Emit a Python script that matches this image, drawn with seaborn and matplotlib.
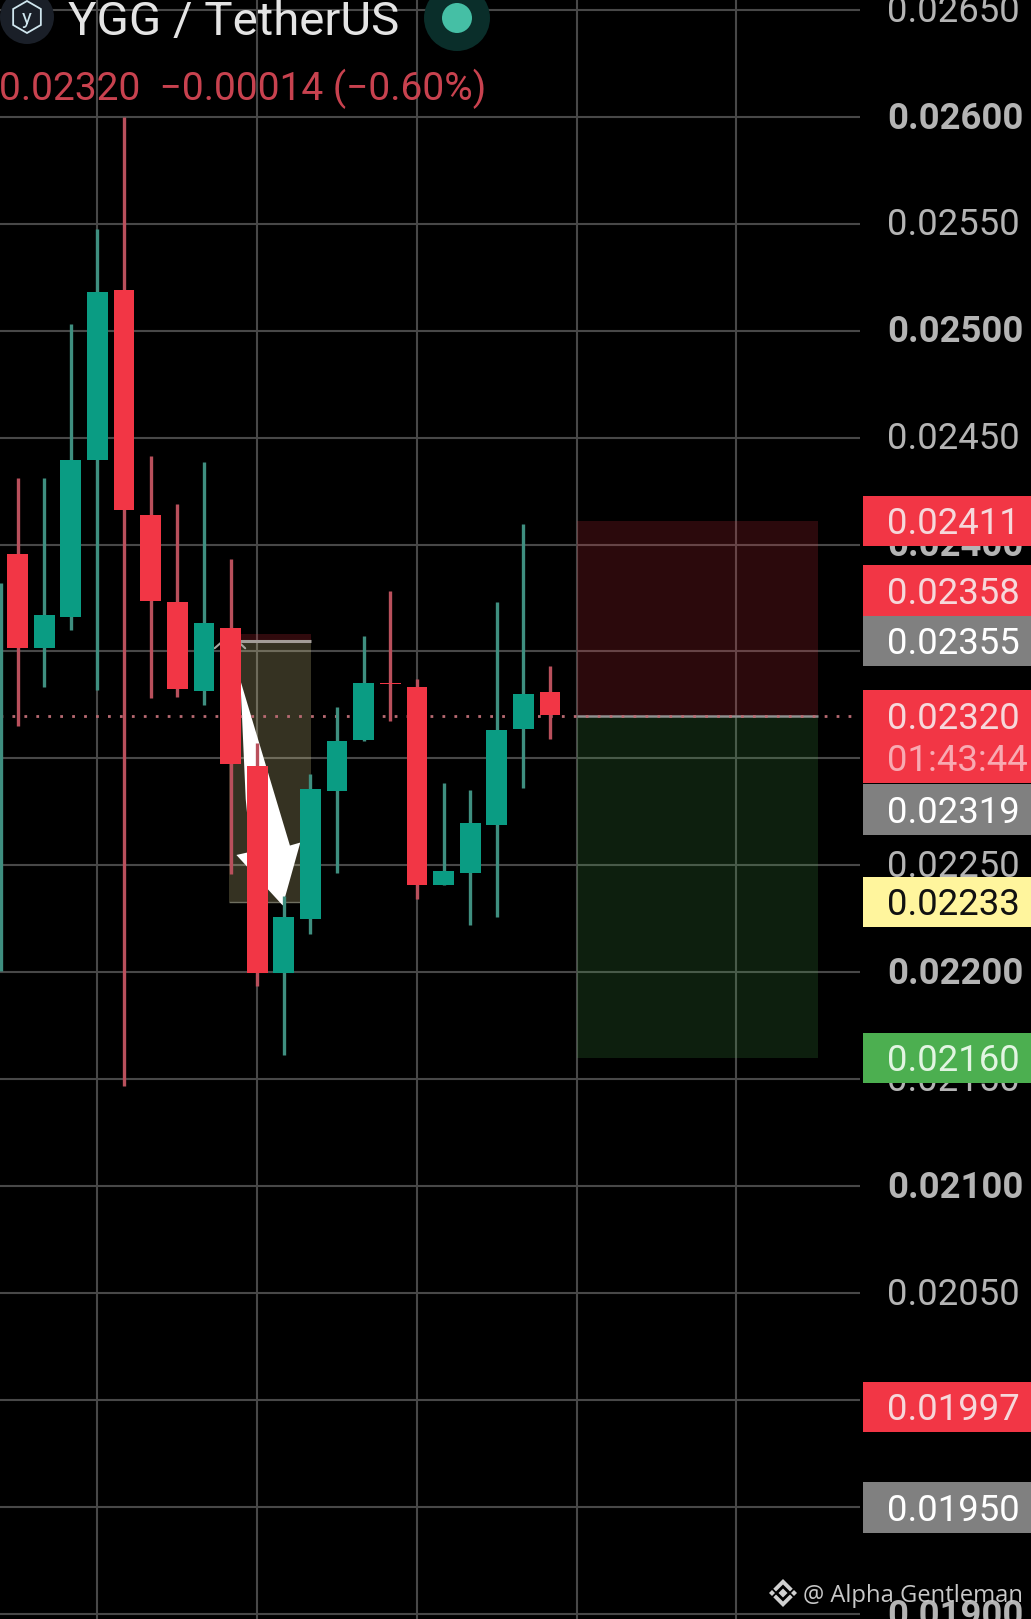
import numpy as np
import pandas as pd
import seaborn as sns
import matplotlib
matplotlib.use("Agg")
import matplotlib.pyplot as plt
from matplotlib.patches import Circle, Polygon, Rectangle, RegularPolygon
from matplotlib.transforms import IdentityTransform, ScaledTranslation

# ---- data -------------------------------------------------------------
candle_idx = list(range(21))
opens = [.023954,.023515,.023659,.024393,.025189,.024137,.023732,.023317,.023611,.022964,.021999,
         .02225,.022849,.023085,.023355,.023336,.022409,.022467,.022689,.023138,.023312]
closes = [.023515,.023669,.024393,.02518,.024161,.023737,.023326,.023635,.022974,.021999,.02226,
          .022858,.02308,.023355,.023346,.022409,.022472,.022699,.023133,.023302,.023201]
highs = [.024311,.024311,.02503,.025474,.026,.024412,.02419,.024388,.023934,.023071,.022356,
         .022926,.02324,.023573,.023785,.02337,.022887,.022853,.023732,.024094,.023433]
lows = [.023153,.023336,.023601,.023322,.021468,.023283,.023288,.023249,.022458,.021937,.021613,
        .022178,.022467,.02308,.023177,.022342,.022409,.022221,.02226,.022863,.02309]
edge_wick_x = -0.62
edge_wick_prices = [.023819, .022009]

price_ticks = [.0265,.026,.0255,.025,.0245,.024,.0235,.023,.0225,.022,.0215,.021,.0205,.02,.0195,.019]
bold_ticks = [.026,.025,.024,.023,.022,.021,.02,.019]
covered_ticks = [.0235,.023,.02,.0195]
time_ticks = [3, 9, 15, 21, 27]

last_price = 0.02320
stop_price = 0.02411
target_price = 0.02160
old_top = 0.02358
old_line = 0.02355
old_bottom = 0.02233
pos_x = [21.0, 30.05]
old_x = [7.93, 11.03]

arrow_x = [8.37, 10.23, 10.62, 9.96, 8.22, 8.76, 8.57]
arrow_y = [.023365, .022593, .022607, .022313, .022549, .022564, .02281]
chevron_x = [7.40, 8.0, 8.55]
chevron_y = [.023515, .02358, .023515]

tag_anchor = [.02411, .023785, .02355, .022762, .02233, .0216, .01997, .0195]
tag_text = ["0.02411", "0.02358", "0.02355", "0.02319", "0.02233", "0.02160", "0.01997", "0.01950"]
tag_fill = ["#f23645", "#f23645", "#808080", "#808080", "#fff59d", "#4caf50", "#f23645", "#808080"]
tag_ink = ["#f6d8db", "#f6d8db", "#ffffff", "#ffffff", "#111111", "#e2f5e2", "#f6d8db", "#ffffff"]

title_text = "YGG / TetherUS"
quote_text = "0.02320  \u22120.00014 (\u22120.60%)"
clock_text = "01:43:44"
mark_text = "@ Alpha Gentleman"

# ---- style ------------------------------------------------------------
W, H = 1031, 1619
sns.set_theme(style="dark", rc={"figure.facecolor": "black", "axes.facecolor": "black"})
plt.rcParams["font.family"] = ["Roboto", "DejaVu Sans"]

RED, TEAL = "#f23645", "#0a9c83"
RED_W, TEAL_W = "#b9505c", "#3f8f80"

fig = plt.figure(figsize=(W / 100, H / 100), dpi=100, facecolor="black")
ax = fig.add_axes([0, 0, 833 / 999, 1])
ax.set_xlim(-0.659, 31.63)
ax.set_ylim(0.018978, 0.026545)
sns.despine(ax=ax, left=True, bottom=True, right=True, top=True)
ax.set_axisbelow(True)

# grid & ticks
ax.yaxis.tick_right()
ax.set_yticks(price_ticks)
ax.set_yticklabels(["" if p in covered_ticks else f"{p:.5f}" for p in price_ticks])
ax.set_xticks(time_ticks)
ax.set_xticklabels([])
ax.grid(True, color="#484848", lw=1.5)
ax.tick_params(axis="both", length=0)
ax.tick_params(axis="y", pad=19.5, labelsize=26.3, labelcolor="#b4b4b4")
lift = ScaledTranslation(0, 1.5 / 72, fig.dpi_scale_trans)
tag_lift = ScaledTranslation(0, 0.4 / 72, fig.dpi_scale_trans)
for tick, p in zip(ax.yaxis.get_major_ticks(), price_ticks):
    lab = tick.label2
    lab.set_transform(lab.get_transform() + lift)
    if p in bold_ticks:
        lab.set_fontweight("bold")

# position boxes
ax.add_patch(Rectangle((pos_x[0], last_price), pos_x[1] - pos_x[0], stop_price - last_price,
                       fc="#f23645", alpha=0.18, ec="none", zorder=1))
ax.add_patch(Rectangle((pos_x[0], target_price), pos_x[1] - pos_x[0], last_price - target_price,
                       fc="#4caf50", alpha=0.18, ec="none", zorder=1))
ax.add_patch(Rectangle((old_x[0], old_line), old_x[1] - old_x[0], old_top - old_line,
                       fc="#f23645", alpha=0.2, ec="none", zorder=1))
ax.add_patch(Rectangle((old_x[0], old_bottom), old_x[1] - old_x[0], old_line - old_bottom,
                       fc="#fff1a5", alpha=0.21, ec="none", zorder=1))
ax.hlines(old_line, old_x[0], old_x[1], color="#a39d98", lw=2.2, zorder=1.5)
ax.hlines(old_bottom, old_x[0], old_x[1], color="#6f6f60", lw=1.0, zorder=1.5)
ax.hlines(last_price, pos_x[0], pos_x[1], color="#8f8f8f", lw=1.8, zorder=1.5)

# hand-drawn arrow
ax.plot(chevron_x, chevron_y, color="#a8a8a0", lw=1.5, zorder=1.6)
ax.add_patch(Polygon(np.column_stack([arrow_x, arrow_y]), closed=True, fc="white", ec="none", zorder=2))

# last price line
ax.axhline(last_price, color="#b86a72", lw=2, linestyle=(0, (1, 3.3)), zorder=2.5)

# wicks
rows = []
for i, o, c, h, l in zip(candle_idx, opens, closes, highs, lows):
    d = "up" if c >= o else "down"
    rows += [dict(candle=i, price=h, direction=d), dict(candle=i, price=l, direction=d)]
for p in edge_wick_prices:
    rows.append(dict(candle=edge_wick_x, price=p, direction="up"))
wicks = pd.DataFrame(rows)
sns.lineplot(data=wicks, x="candle", y="price", units="candle", hue="direction", estimator=None,
             palette={"up": TEAL_W, "down": RED_W}, linewidth=2.4, legend=False, sort=False,
             ax=ax, zorder=3, solid_capstyle="butt")
ax.set_xlabel("")
ax.set_ylabel("")

# bodies
o_arr, c_arr = np.array(opens), np.array(closes)
colors = [TEAL if c >= o else RED for o, c in zip(opens, closes)]
ax.bar(candle_idx, np.abs(c_arr - o_arr), bottom=np.minimum(o_arr, c_arr), width=0.78,
       color=colors, lw=0, zorder=4)

# price tags
ytr = ax.get_yaxis_transform()
half = 0.000118
tag_l, tag_w, text_x = 836 / 833, 170 / 833, 859.5 / 833
for p, s, f, k in zip(tag_anchor, tag_text, tag_fill, tag_ink):
    ax.add_patch(Rectangle((tag_l, p - half), tag_w, 2 * half, transform=ytr, fc=f, ec="none",
                           clip_on=False, zorder=6))
    ax.text(text_x, p, s, transform=ytr + tag_lift, color=k, fontsize=26.3, ha="left", va="center_baseline",
            clip_on=False, zorder=7)
ax.add_patch(Rectangle((tag_l, 0.022887), tag_w, 0.023322 - 0.022887, transform=ytr, fc=RED, ec="none",
                       clip_on=False, zorder=6))
ax.text(text_x, last_price, f"{last_price:.5f}", transform=ytr + tag_lift, color="#f6d8db", fontsize=26.3,
        ha="left", va="center_baseline", zorder=7, clip_on=False)
ax.text(text_x, 0.023003, clock_text, transform=ytr + tag_lift, color="#f8aab2", fontsize=26.3,
        ha="left", va="center_baseline", zorder=7, clip_on=False)

# header
px = IdentityTransform()
def disc(x, y, r, col):
    fig.add_artist(Circle((x, H - y), r, transform=px, fc=col, ec="none"))
disc(27, 17, 27, "#1a1f28")
fig.add_artist(RegularPolygon((27, H - 17), 6, radius=16, transform=px, fc="none", ec="#cfe6ee", lw=1.3))
fig.text(27 / W, 1 - 24 / H, "y", color="#cfe6ee", fontsize=15, ha="center", va="baseline")
disc(457, 18, 33, "#0a2e2a")
disc(457, 18, 15, "#45bfa5")
fig.text(68 / W, 1 - 35 / H, title_text, color="#e4e4e4", fontsize=34.1, ha="left", va="baseline")
fig.text(-1 / W, 1 - 100 / H, quote_text, color="#c8424f", fontsize=28, ha="left", va="baseline")

# watermark
def diamond(x, y, r, col, z):
    fig.add_artist(RegularPolygon((x, H - y), 4, radius=r, transform=px, fc=col, ec="none", zorder=z))
diamond(783, 1593, 14, "#d0d0d0", 9)
diamond(783, 1593, 8.5, "black", 10)
diamond(783, 1593, 4.5, "#d0d0d0", 11)
for dx in (-11, 11):
    diamond(783 + dx, 1593, 5.5, "black", 10)
    diamond(783 + dx, 1593, 3, "#d0d0d0", 11)
fig.text(803 / W, 1 - 1602 / H, mark_text, color="#c8c8c8", fontsize=17.1, family=["Open Sans", "DejaVu Sans"],
         ha="left", va="baseline", zorder=12)

fig.savefig("out.png", dpi=100, facecolor="black")
